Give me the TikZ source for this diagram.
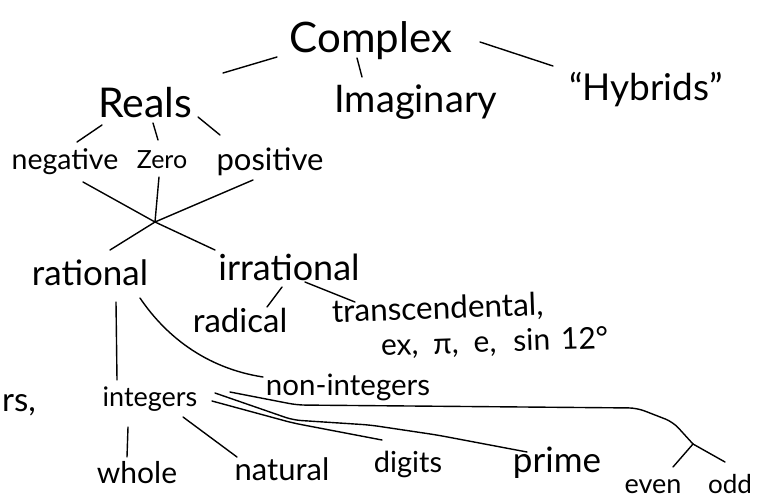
\documentclass[tikz,border=0pt]{standalone}
\usepackage{fontspec}
\setmainfont{Lato}
\newcommand\hfs[1]{\fontsize{#1}{#1}\selectfont}
\begin{document}
\begin{tikzpicture}[x=1pt,y=-1pt,
  lbl/.style={inner sep=0pt, anchor=base, font=\hfs{#1}},
  ln/.style={line width=1.4pt, line cap=round, line join=round}]
\fill[white] (0,0) rectangle (760,501);
\useasboundingbox (0,0) rectangle (760,501);
% labels
\node[lbl=42] (cplx) at (371,52) {Complex};
\node[lbl=41] (reals) at (145,117) {Reals};
\node[lbl=38] (imag) at (416,112) {Imaginary};
\node[lbl=37] (hyb) at (646,100) {“Hybrids”};
\node[lbl=28.5] (neg) at (65,169) {negative};
\node[lbl=25] (zero) at (162,168) {Zero};
\node[lbl=31] (pos) at (270,170) {positive};
\node[lbl=35] (rat) at (90,285) {rational};
\node[lbl=36] (irr) at (289,280) {irrational};
\node[lbl=33] (rad) at (240,332) {radical};
\node[lbl=31.5, rotate=2] (trans) at (438,319) {transcendental,};
\node[lbl=30, rotate=2] (ex) at (495,352) {ex,\hspace{15pt}π,\hspace{15pt}e,\hspace{17pt}sin\hspace{11pt}12°};
\node[lbl=29.5] (nonint) at (348,395) {non-integers};
\node[lbl=27] (int) at (150,406) {integers};
\node[lbl=30] (whole) at (137,483) {whole};
\node[lbl=31] (nat) at (282,480) {natural};
\node[lbl=29] (dig) at (408,472) {digits};
\node[lbl=35] (prime) at (557,472) {prime};
\node[lbl=27] (even) at (653,493) {even};
\node[lbl=26] (odd) at (730,493) {odd};
\node[lbl=33, anchor=base east] (rs) at (36,411) {rs,};
% junctions
\coordinate (X) at (155,222);
\coordinate (J) at (693,444);
% connectors
\draw[ln] ([shift={(-94,5)}]cplx.base) -- ([shift={(78,-44)}]reals.base);
\draw[ln] ([shift={(-14,6)}]cplx.base) -- ([shift={(-54,-35)}]imag.base);
\draw[ln] ([shift={(109,-10)}]cplx.base) -- ([shift={(-93,-34)}]hyb.base);
\draw[ln] ([shift={(-43,8)}]reals.base) -- ([shift={(12,-27)}]neg.base);
\draw[ln] ([shift={(8,6)}]reals.base) -- ([shift={(-4,-28)}]zero.base);
\draw[ln] ([shift={(53,0)}]reals.base) -- ([shift={(-50,-35)}]pos.base);
\draw[ln] ([shift={(18,13)}]neg.base) -- (X) -- ([shift={(-74,-30)}]irr.base);
\draw[ln] ([shift={(-3,9)}]zero.base) -- (X);
\draw[ln] ([shift={(-17,10)}]pos.base) -- (X) -- ([shift={(20,-35)}]rat.base);
\draw[ln] ([shift={(-7,7)}]irr.base) -- ([shift={(27,-25)}]rad.base);
\draw[ln] ([shift={(16,2)}]irr.base) -- ([shift={(-83,-17)}]trans.base);
\draw[ln] ([shift={(26,17)}]rat.base) -- ([shift={(-33,-26)}]int.base);
\draw[ln] ([shift={(50,13)}]rat.base) .. controls +(25,37) and +(-58,-9) .. ([shift={(-85,-18)}]nonint.base);
\draw[ln] ([shift={(-22,21)}]int.base) -- ([shift={(-10,-26)}]whole.base);
\draw[ln] ([shift={(33,11)}]int.base) -- ([shift={(-45,-23)}]nat.base);
\draw[ln, rounded corners=8pt] ([shift={(62,-5)}]int.base) -- ++(81,22) -- ([shift={(-26,-32)}]dig.base);
\draw[ln, rounded corners=8pt] ([shift={(65,-13)}]int.base) -- ++(78,27) -- ++(77,5) -- ++(67,10) -- ([shift={(-30,-20)}]prime.base);
\draw[ln, rounded corners=8pt] ([shift={(80,-14)}]int.base) -- ++(67,13) -- ++(340,3) -- ++(36,14) -- (J);
\draw[ln] (J) -- ([shift={(-5,-31)}]odd.base);
\draw[ln] (J) -- ([shift={(20,-26)}]even.base);
\end{tikzpicture}
\end{document}
